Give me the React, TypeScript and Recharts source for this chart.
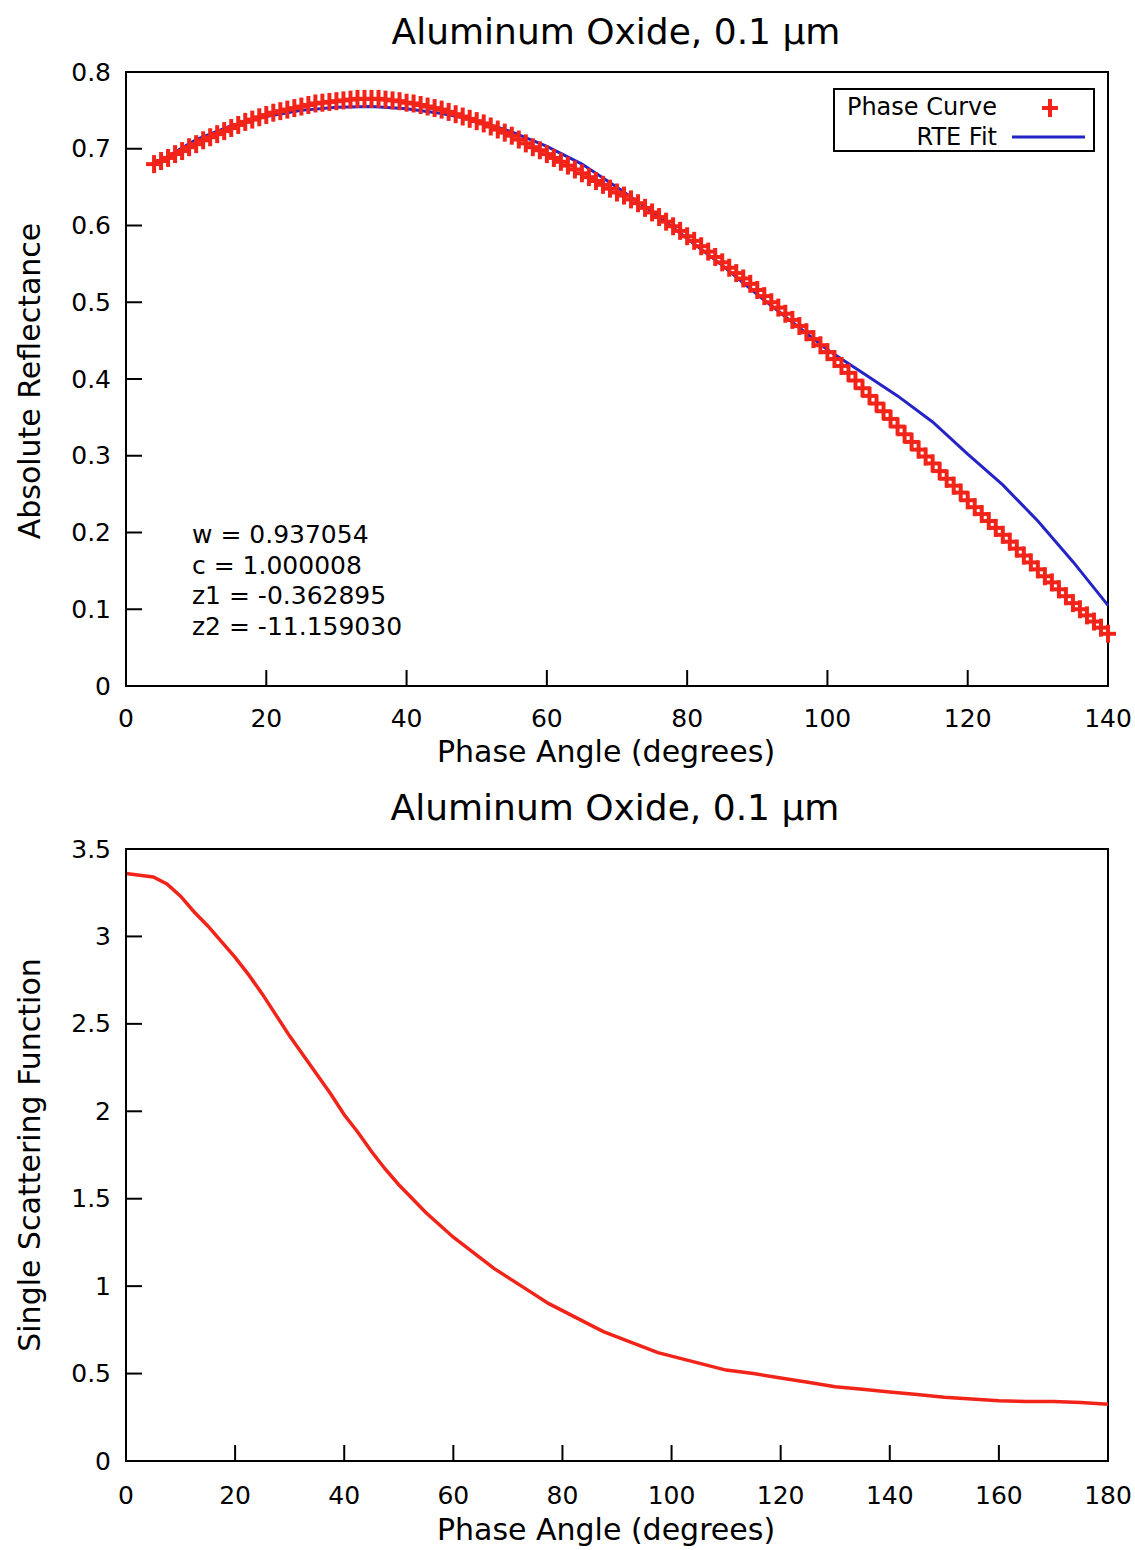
import { FC } from "react";
import {
   ComposedChart,
   LineChart,
   Line,
   Scatter,
   XAxis,
   YAxis,
   ReferenceArea,
} from "recharts";

// top plot: measured phase curve (red crosses)
const phaseCurveAngles = [
   4, 5, 6, 7, 8, 9, 10, 11, 12, 13, 14, 15, 16, 17, 18, 19, 20, 21, 22, 23,
   24, 25, 26, 27, 28, 29, 30, 31, 32, 33, 34, 35, 36, 37, 38, 39, 40, 41, 42,
   43, 44, 45, 46, 47, 48, 49, 50, 51, 52, 53, 54, 55, 56, 57, 58, 59, 60, 61,
   62, 63, 64, 65, 66, 67, 68, 69, 70, 71, 72, 73, 74, 75, 76, 77, 78, 79, 80,
   81, 82, 83, 84, 85, 86, 87, 88, 89, 90, 91, 92, 93, 94, 95, 96, 97, 98, 99,
   100, 101, 102, 103, 104, 105, 106, 107, 108, 109, 110, 111, 112, 113, 114,
   115, 116, 117, 118, 119, 120, 121, 122, 123, 124, 125, 126, 127, 128, 129,
   130, 131, 132, 133, 134, 135, 136, 137, 138, 139, 140,
];
const phaseCurveValues = [
   0.68, 0.684, 0.688, 0.693, 0.697, 0.702, 0.706, 0.711, 0.715, 0.719, 0.723,
   0.727, 0.731, 0.735, 0.738, 0.741, 0.744, 0.747, 0.749, 0.751, 0.753, 0.755,
   0.757, 0.759, 0.76, 0.761, 0.762, 0.763, 0.764, 0.765, 0.765, 0.765, 0.765,
   0.764, 0.763, 0.762, 0.76, 0.759, 0.757, 0.755, 0.753, 0.751, 0.748, 0.745,
   0.742, 0.739, 0.736, 0.733, 0.729, 0.725, 0.721, 0.717, 0.712, 0.707, 0.702,
   0.698, 0.693, 0.688, 0.683, 0.678, 0.673, 0.668, 0.663, 0.658, 0.653, 0.648,
   0.643, 0.639, 0.634, 0.629, 0.623, 0.617, 0.611, 0.605, 0.599, 0.593, 0.586,
   0.58, 0.573, 0.566, 0.559, 0.552, 0.545, 0.538, 0.531, 0.524, 0.516, 0.508,
   0.5, 0.493, 0.485, 0.477, 0.469, 0.461, 0.452, 0.444, 0.435, 0.426, 0.417,
   0.408, 0.398, 0.388, 0.378, 0.368, 0.358, 0.348, 0.338, 0.328, 0.318, 0.308,
   0.299, 0.29, 0.28, 0.27, 0.261, 0.252, 0.242, 0.233, 0.224, 0.215, 0.206,
   0.197, 0.188, 0.179, 0.17, 0.161, 0.152, 0.143, 0.135, 0.126, 0.117, 0.108,
   0.1, 0.092, 0.084, 0.076, 0.068,
];

// top plot: RTE fit (blue line)
const fitAngles = [
   5, 10, 15, 20, 25, 30, 35, 40, 45, 50, 55, 60, 65, 70, 75, 80, 85, 90, 95,
   100, 105, 110, 115, 120, 125, 130, 135, 140,
];
const fitValues = [
   0.685, 0.712, 0.73, 0.742, 0.75, 0.754, 0.755, 0.752, 0.746, 0.737, 0.722,
   0.703, 0.68, 0.65, 0.618, 0.583, 0.548, 0.51, 0.474, 0.438, 0.408, 0.378,
   0.344, 0.302, 0.262, 0.215, 0.162, 0.105,
];

// bottom plot: single scattering function
const ssfAngles = [
   0, 2.5, 5, 7.5, 10, 12.5, 15, 17.5, 20, 22.5, 25, 27.5, 30, 32.5, 35, 37.5,
   40, 42.5, 45, 47.5, 50, 52.5, 55, 57.5, 60, 62.5, 65, 67.5, 70, 72.5, 75,
   77.5, 80, 82.5, 85, 87.5, 90, 92.5, 95, 97.5, 100, 105, 110, 115, 120, 125,
   130, 135, 140, 145, 150, 155, 160, 165, 170, 175, 180,
];
const ssfValues = [
   3.36, 3.35, 3.34, 3.3, 3.23, 3.14, 3.06, 2.97, 2.88, 2.78, 2.67, 2.55, 2.43,
   2.32, 2.21, 2.1, 1.98, 1.88, 1.77, 1.67, 1.58, 1.5, 1.42, 1.35, 1.28, 1.22,
   1.16, 1.1, 1.05, 1.0, 0.95, 0.9, 0.86, 0.82, 0.78, 0.74, 0.71, 0.68, 0.65,
   0.62, 0.6, 0.56, 0.52, 0.5, 0.475, 0.45, 0.425, 0.41, 0.395, 0.38, 0.365,
   0.355, 0.345, 0.34, 0.34, 0.335, 0.325,
];

// tick labels
const topXTicks = [0, 20, 40, 60, 80, 100, 120, 140];
const topYTicks = [0, 0.1, 0.2, 0.3, 0.4, 0.5, 0.6, 0.7, 0.8];
const bottomXTicks = [0, 20, 40, 60, 80, 100, 120, 140, 160, 180];
const bottomYTicks = [0, 0.5, 1, 1.5, 2, 2.5, 3, 3.5];

const fitParams = [
   "w = 0.937054",
   "c = 1.000008",
   "z1 = -0.362895",
   "z2 = -11.159030",
];

const FONT = "'DejaVu Sans', Verdana, sans-serif";
const RED = "#f2241a";
const BLUE = "#2323c8";

const phaseCurve = phaseCurveAngles.map((x, i) => ({ x, y: phaseCurveValues[i] }));
const fitCurve = fitAngles.map((x, i) => ({ x, y: fitValues[i] }));
const ssfCurve = ssfAngles.map((x, i) => ({ x, y: ssfValues[i] }));

const makeXTick = (labelOffset: number) => (props: any) => {
   const { x, y, payload } = props;
   return (
      <g>
         <line x1={x} y1={y} x2={x} y2={y - 16} stroke="#000" strokeWidth={2} />
         <text
            x={x}
            y={y + labelOffset}
            textAnchor="middle"
            dominantBaseline="central"
            fontFamily={FONT}
            fontSize={25}
            fill="#000"
         >
            {payload.value}
         </text>
      </g>
   );
};

const YTick = (props: any) => {
   const { x, y, payload } = props;
   return (
      <g>
         <line x1={x} y1={y} x2={x + 16} y2={y} stroke="#000" strokeWidth={2} />
         <text
            x={x - 15}
            y={y}
            textAnchor="end"
            dominantBaseline="central"
            fontFamily={FONT}
            fontSize={25}
            fill="#000"
         >
            {payload.value}
         </text>
      </g>
   );
};

const PlusShape = (props: any) => {
   const { cx, cy } = props;
   if (cx == null || cy == null) return null;
   return (
      <g stroke={RED} strokeWidth={4}>
         <line x1={cx - 8} y1={cy} x2={cx + 8} y2={cy} />
         <line x1={cx} y1={cy - 9} x2={cx} y2={cy + 9} />
      </g>
   );
};

const centered = (top: number, left: number, size: number) => ({
   position: "absolute" as const,
   top: top - size / 2,
   left: left - 400,
   width: 800,
   textAlign: "center" as const,
   fontFamily: FONT,
   fontSize: size,
   lineHeight: `${size}px`,
   whiteSpace: "nowrap" as const,
});

const rotated = (cy: number, cx: number, size: number) => ({
   position: "absolute" as const,
   top: cy - size / 2,
   left: cx - 300,
   width: 600,
   textAlign: "center" as const,
   fontFamily: FONT,
   fontSize: size,
   lineHeight: `${size}px`,
   whiteSpace: "nowrap" as const,
   transform: "rotate(-90deg)",
});

const App: FC = () => {
   return (
      <div
         style={{
            position: "absolute",
            left: 0,
            top: 0,
            width: 1135,
            height: 1550,
            background: "#fff",
            color: "#000",
         }}
      >
         {/* ---------- top plot ---------- */}
         <div style={centered(32, 616, 36)}>Aluminum Oxide, 0.1 µm</div>
         <div style={rotated(381, 30, 30)}>Absolute Reflectance</div>
         <div style={centered(752, 606, 30)}>Phase Angle (degrees)</div>
         <div style={{ position: "absolute", left: 0, top: 0 }}>
            <ComposedChart
               width={1135}
               height={775}
               margin={{ top: 72, right: 27, left: 46, bottom: 4 }}
            >
               <XAxis
                  type="number"
                  dataKey="x"
                  domain={[0, 140]}
                  ticks={topXTicks}
                  interval={0}
                  height={85}
                  tickSize={0}
                  tickMargin={0}
                  tick={makeXTick(32)}
                  axisLine={{ stroke: "#000", strokeWidth: 2 }}
               />
               <YAxis
                  type="number"
                  domain={[0, 0.8]}
                  ticks={topYTicks}
                  interval={0}
                  width={80}
                  tickSize={0}
                  tickMargin={0}
                  tick={YTick}
                  axisLine={{ stroke: "#000", strokeWidth: 2 }}
               />
               <ReferenceArea
                  x1={0}
                  x2={140}
                  y1={0}
                  y2={0.8}
                  fill="none"
                  stroke="#000"
                  strokeWidth={2}
               />
               <Scatter
                  name="Phase Curve"
                  data={phaseCurve}
                  dataKey="y"
                  shape={PlusShape}
                  isAnimationActive={false}
               />
               <Line
                  name="RTE Fit"
                  data={fitCurve}
                  dataKey="y"
                  stroke={BLUE}
                  strokeWidth={3}
                  dot={false}
                  type="linear"
                  isAnimationActive={false}
               />
            </ComposedChart>
         </div>

         {/* legend */}
         <div
            style={{
               position: "absolute",
               left: 833,
               top: 88,
               width: 258,
               height: 60,
               border: "2px solid #000",
               fontFamily: FONT,
               fontSize: 24,
            }}
         >
            <div style={{ position: "absolute", right: 96, top: 3, lineHeight: "28px" }}>
               Phase Curve
            </div>
            <svg
               style={{ position: "absolute", left: 203, top: 6 }}
               width={24}
               height={24}
            >
               <g stroke={RED} strokeWidth={4}>
                  <line x1={4} y1={12} x2={20} y2={12} />
                  <line x1={12} y1={3} x2={12} y2={21} />
               </g>
            </svg>
            <div style={{ position: "absolute", right: 96, top: 33, lineHeight: "28px" }}>
               RTE Fit
            </div>
            <svg style={{ position: "absolute", left: 177, top: 40 }} width={76} height={12}>
               <line x1={0} y1={7} x2={73} y2={7} stroke={BLUE} strokeWidth={3} />
            </svg>
         </div>

         {/* fit parameters */}
         <div
            style={{
               position: "absolute",
               left: 192,
               top: 520,
               fontFamily: FONT,
               fontSize: 25,
               lineHeight: "30.5px",
               whiteSpace: "pre",
            }}
         >
            {fitParams.map((p) => (
               <div key={p}>{p}</div>
            ))}
         </div>

         {/* ---------- bottom plot ---------- */}
         <div style={centered(808, 615, 36)}>Aluminum Oxide, 0.1 µm</div>
         <div style={rotated(1155, 30, 30)}>Single Scattering Function</div>
         <div style={centered(1530, 606, 30)}>Phase Angle (degrees)</div>
         <div style={{ position: "absolute", left: 0, top: 775 }}>
            <LineChart
               width={1135}
               height={775}
               margin={{ top: 74, right: 27, left: 46, bottom: 4 }}
            >
               <XAxis
                  type="number"
                  dataKey="x"
                  domain={[0, 180]}
                  ticks={bottomXTicks}
                  interval={0}
                  height={85}
                  tickSize={0}
                  tickMargin={0}
                  tick={makeXTick(34)}
                  axisLine={{ stroke: "#000", strokeWidth: 2 }}
               />
               <YAxis
                  type="number"
                  domain={[0, 3.5]}
                  ticks={bottomYTicks}
                  interval={0}
                  width={80}
                  tickSize={0}
                  tickMargin={0}
                  tick={YTick}
                  axisLine={{ stroke: "#000", strokeWidth: 2 }}
               />
               <ReferenceArea
                  x1={0}
                  x2={180}
                  y1={0}
                  y2={3.5}
                  fill="none"
                  stroke="#000"
                  strokeWidth={2}
               />
               <Line
                  data={ssfCurve}
                  dataKey="y"
                  stroke={RED}
                  strokeWidth={3.5}
                  dot={false}
                  type="linear"
                  isAnimationActive={false}
               />
            </LineChart>
         </div>
      </div>
   );
};

export default App;
